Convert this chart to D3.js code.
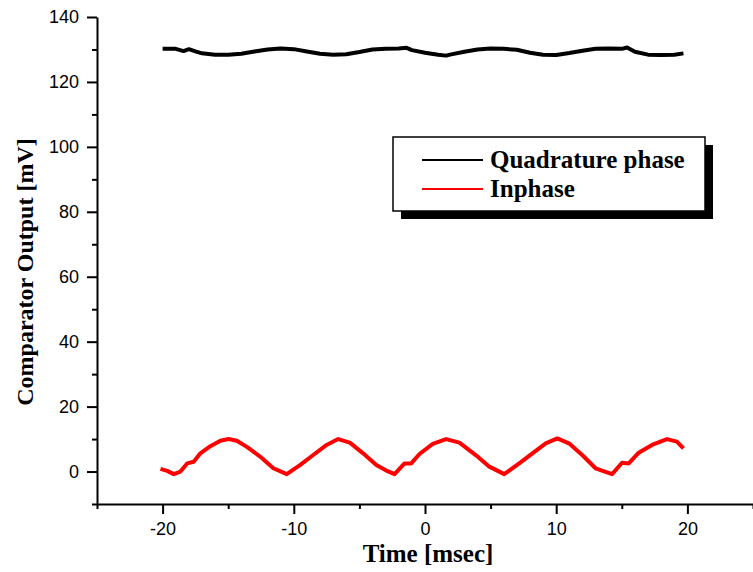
<!DOCTYPE html>
<html>
<head>
<meta charset="utf-8">
<script src="https://cdn.jsdelivr.net/npm/d3@7"></script>
<style>
  body { margin: 0; background: #fff; }
  svg { display: block; }
</style>
</head>
<body>
<div id="chart"></div>
<script>
// Quadrature phase (black) samples
const quadTime = [-20.0, -19.0, -18.4, -18.0, -17.5, -17.0, -16.0, -15.0, -14.0, -13.0, -12.0, -11.0,
    -10.0, -9.0, -8.0, -7.0, -6.0, -5.0, -4.0, -3.0, -2.0, -1.4, -1.0, 0.0, 1.0, 1.6, 2.0, 3.0, 4.0,
    5.0, 6.0, 7.0, 8.0, 9.0, 10.0, 11.0, 12.0, 13.0, 14.0, 15.0, 15.4, 16.0, 17.0, 18.0, 19.0, 19.7];
const quadValue = [130.2, 130.2, 129.5, 130.1, 129.4, 128.8, 128.4, 128.4, 128.7, 129.4, 130.0, 130.3,
    130.1, 129.4, 128.7, 128.4, 128.5, 129.2, 130.0, 130.2, 130.3, 130.5, 129.8, 129.0, 128.4, 128.1, 128.5, 129.3, 130.0,
    130.3, 130.2, 129.9, 129.0, 128.4, 128.3, 128.9, 129.6, 130.2, 130.3, 130.2, 130.6, 129.3, 128.4, 128.3, 128.4, 128.8];

// Inphase (red) samples
const inTime = [-20.16, -19.65, -19.15, -18.64, -18.13, -17.63, -17.12, -16.36, -15.60, -14.97, -14.34, -13.58,
    -12.57, -11.56, -10.54, -9.53, -8.52, -7.50, -6.62, -5.73, -4.72, -3.71, -2.95, -2.32, -1.56, -1.05,
    -0.42, 0.59, 1.61, 2.62, 3.89, 4.90, 6.04, 7.18, 8.19, 9.20, 10.08, 10.97, 11.98, 13.0, 14.26, 15.02,
    15.53, 16.29, 17.30, 18.44, 19.20, 19.70];
const inValue = [0.8, 0.2, -0.8, 0.0, 2.5, 3.0, 5.6, 7.8, 9.5, 10.0, 9.5, 7.6,
    4.6, 1.0, -0.8, 2.0, 5.1, 8.2, 10.0, 8.9, 5.6, 2.0, 0.3, -0.8, 2.5, 2.5,
    5.4, 8.5, 10.0, 8.9, 5.0, 1.5, -0.8, 2.5, 5.6, 8.7, 10.2, 8.7, 5.1, 1.0, -0.8, 2.7,
    2.5, 5.8, 8.2, 10.0, 9.2, 7.1];

const xMajorTicks = [-20, -10, 0, 10, 20];
const xMinorTicks = [-25, -15, -5, 5, 15, 25];
const yMajorTicks = [0, 20, 40, 60, 80, 100, 120, 140];
const yMinorTicks = [-10, 10, 30, 50, 70, 90, 110, 130];

const seriesNames = ["Quadrature phase", "Inphase"];
const seriesColors = ["#000000", "#ff0000"];

const width = 753, height = 572;
const plot = { left: 97, right: 753, top: 17, bottom: 504 };

const svg = d3.select("#chart").append("svg")
    .attr("width", width)
    .attr("height", height);

const x = d3.scaleLinear().domain([-25, 25]).range([plot.left, plot.right]);
const y = d3.scaleLinear().domain([-10, 140]).range([plot.bottom, plot.top]);

const tickFont = "'Liberation Sans', Arial, sans-serif";
const titleFont = "'Liberation Serif', 'Times New Roman', serif";
const plainNum = d => String(d);   // keep ascii hyphen for negatives

// minor ticks first, no labels
svg.append("g")
    .attr("transform", "translate(0," + y(-10) + ")")
    .call(d3.axisBottom(x).tickValues(xMinorTicks).tickSize(5).tickSizeOuter(0).tickFormat(""))
    .call(g => g.select(".domain").remove())
    .call(g => g.selectAll("line").attr("stroke-width", 2));
svg.append("g")
    .attr("transform", "translate(" + x(-25) + ",0)")
    .call(d3.axisLeft(y).tickValues(yMinorTicks).tickSize(5).tickSizeOuter(0).tickFormat(""))
    .call(g => g.select(".domain").remove())
    .call(g => g.selectAll("line").attr("stroke-width", 2));

// major axes
const xAxis = svg.append("g")
    .attr("transform", "translate(0," + y(-10) + ")")
    .call(d3.axisBottom(x).tickValues(xMajorTicks).tickSize(10).tickSizeOuter(0).tickPadding(8).tickFormat(plainNum));
const yAxis = svg.append("g")
    .attr("transform", "translate(" + x(-25) + ",0)")
    .call(d3.axisLeft(y).tickValues(yMajorTicks).tickSize(10).tickSizeOuter(0).tickPadding(8).tickFormat(plainNum));

[xAxis, yAxis].forEach(a => {
    a.select(".domain").attr("stroke-width", 2);
    a.selectAll("line").attr("stroke-width", 2);
    a.selectAll("text")
        .attr("font-family", tickFont)
        .attr("font-size", 18)
        .attr("fill", "#000");
});

// axis titles
svg.append("text")
    .attr("x", 428)
    .attr("y", 562)
    .attr("text-anchor", "middle")
    .attr("font-family", titleFont)
    .attr("font-weight", "bold")
    .attr("font-size", 25)
    .text("Time [msec]");

svg.append("text")
    .attr("transform", "translate(33,272) rotate(-90)")
    .attr("text-anchor", "middle")
    .attr("font-family", titleFont)
    .attr("font-weight", "bold")
    .attr("font-size", 24)
    .text("Comparator Output [mV]");

// series
const line = d3.line()
    .x(d => x(d[0]))
    .y(d => y(d[1]));

const seriesData = [
    d3.zip(quadTime, quadValue),
    d3.zip(inTime, inValue)
];

seriesData.forEach((pts, i) => {
    svg.append("path")
        .datum(pts)
        .attr("fill", "none")
        .attr("stroke", seriesColors[i])
        .attr("stroke-width", 4)
        .attr("stroke-linejoin", "round")
        .attr("d", line);
});

// legend with drop shadow
const legend = { x: 393, y: 137, w: 312, h: 74, shadow: 8 };
svg.append("rect")
    .attr("x", legend.x + legend.shadow)
    .attr("y", legend.y + legend.shadow)
    .attr("width", legend.w)
    .attr("height", legend.h)
    .attr("fill", "#000");
svg.append("rect")
    .attr("x", legend.x)
    .attr("y", legend.y)
    .attr("width", legend.w)
    .attr("height", legend.h)
    .attr("fill", "#fff")
    .attr("stroke", "#000")
    .attr("stroke-width", 1.5);

seriesNames.forEach((name, i) => {
    const ly = 160 + i * 29;
    svg.append("line")
        .attr("x1", 422).attr("x2", 483)
        .attr("y1", ly).attr("y2", ly)
        .attr("stroke", seriesColors[i])
        .attr("stroke-width", 2);
    svg.append("text")
        .attr("x", 490)
        .attr("y", ly + 8)
        .attr("font-family", titleFont)
        .attr("font-weight", "bold")
        .attr("font-size", 25)
        .attr("fill", "#000")
        .text(name);
});
</script>
</body>
</html>
